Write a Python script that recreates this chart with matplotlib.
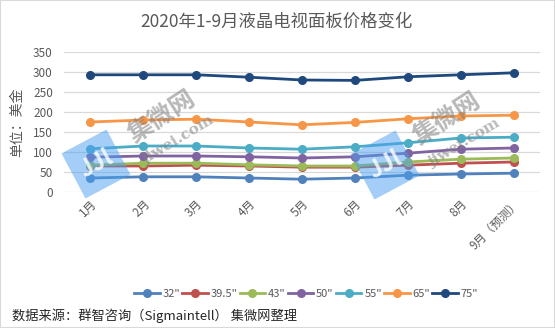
import matplotlib.pyplot as plt
import matplotlib.patches as mpatches
import numpy as np

plt.rcParams['font.family'] = ['Noto Sans CJK SC', 'DejaVu Sans']

months = ['1月', '2月', '3月', '4月', '5月', '6月', '7月', '8月', '9月（预测）']
sizes = ['32"', '39.5"', '43"', '50"', '55"', '65"', '75"']
p32 = [35, 38, 38, 35, 32, 35, 42, 45, 47]
p395 = [65, 65, 67, 65, 62, 62, 67, 72, 75]
p43 = [67, 72, 72, 68, 65, 65, 75, 82, 85]
p50 = [87, 90, 90, 88, 85, 88, 97, 107, 110]
p55 = [108, 115, 115, 110, 107, 113, 123, 135, 137]
p65 = [175, 180, 182, 175, 168, 174, 183, 190, 192]
p75 = [293, 293, 293, 287, 280, 279, 288, 293, 298]
series = [p32, p395, p43, p50, p55, p65, p75]
colors = ['#4F81BD', '#C0504D', '#9BBB59', '#8064A2', '#4BACC6', '#F79646', '#1F497D']

W, H = 555, 328
fig = plt.figure(figsize=(W / 100, H / 100), dpi=100)
ax = fig.add_axes([64 / W, 1 - 192 / H, (540 - 64) / W, (192 - 52) / H])

x = np.arange(len(months))
for vals, c, lab in zip(series, colors, sizes):
    ax.plot(x, vals, color=c, lw=2.0, marker='o', ms=5.5, label=lab)

ax.set_xlim(-0.5, len(months) - 0.5)
ax.set_ylim(0, 350)
ax.set_yticks(range(0, 351, 50))
ax.yaxis.grid(True, color='#d9d9d9', lw=0.9)
ax.set_axisbelow(True)
for s in ax.spines.values():
    s.set_visible(False)
ax.tick_params(axis='both', length=0, labelsize=8.5, labelcolor='#595959')
ax.tick_params(axis='y', pad=8)
ax.set_xticks(x)
ax.set_xticklabels(months, rotation=45, ha='right', rotation_mode='anchor')
ax.set_ylabel('单位：美金', fontsize=10, color='#595959', labelpad=6)

fig.text(276 / W, 1 - 22 / H, '2020年1-9月液晶电视面板价格变化', ha='center', va='center',
         fontsize=12.5, color='#595959')

ax.legend(loc='center', bbox_to_anchor=(306 / W, 1 - 294 / H), bbox_transform=fig.transFigure,
          ncol=7, frameon=False, fontsize=8, handlelength=2.3, handletextpad=0.25,
          columnspacing=0.2, labelcolor='#595959')

fig.text(12 / W, 1 - 316 / H, '数据来源：群智咨询（Sigmaintell） 集微网整理', ha='left', va='center',
         fontsize=9.5, color='#262626')

# watermarks
side = 51
ang = np.deg2rad(28)
for cx, cy, tx, ty, wx, wy in [(96, 164, 162, 117, 178, 140), (385, 165, 447, 119, 464, 143)]:
    corners = []
    for dx, dy in [(-1, -1), (1, -1), (1, 1), (-1, 1)]:
        px = dx * side / 2 * np.cos(ang) - dy * side / 2 * np.sin(ang)
        py = dx * side / 2 * np.sin(ang) + dy * side / 2 * np.cos(ang)
        corners.append(((cx + px) / W, (H - cy + py) / H))
    fig.add_artist(mpatches.Polygon(corners, closed=True, color='#4a9ff0', alpha=0.5, lw=0,
                                    transform=fig.transFigure))
    fig.text(cx / W, 1 - cy / H, 'JJl', ha='center', va='center', rotation=28,
             fontsize=17, color='white', alpha=0.8, fontweight='bold')
    fig.text(tx / W, 1 - ty / H, '集微网', ha='center', va='center', rotation=33,
             fontsize=18, color='#7f7f7f', alpha=0.55, fontweight='bold')
    fig.text(wx / W, 1 - wy / H, 'jiwei.com', ha='center', va='center', rotation=31,
             fontsize=11, color='#7f7f7f', alpha=0.55, family='DejaVu Serif', fontweight='bold')

fig.add_artist(mpatches.Rectangle((0, 0), 1, 1, transform=fig.transFigure, fill=False,
                                  edgecolor='#d9d9d9', lw=1.5))

fig.savefig('out.png', dpi=100)
